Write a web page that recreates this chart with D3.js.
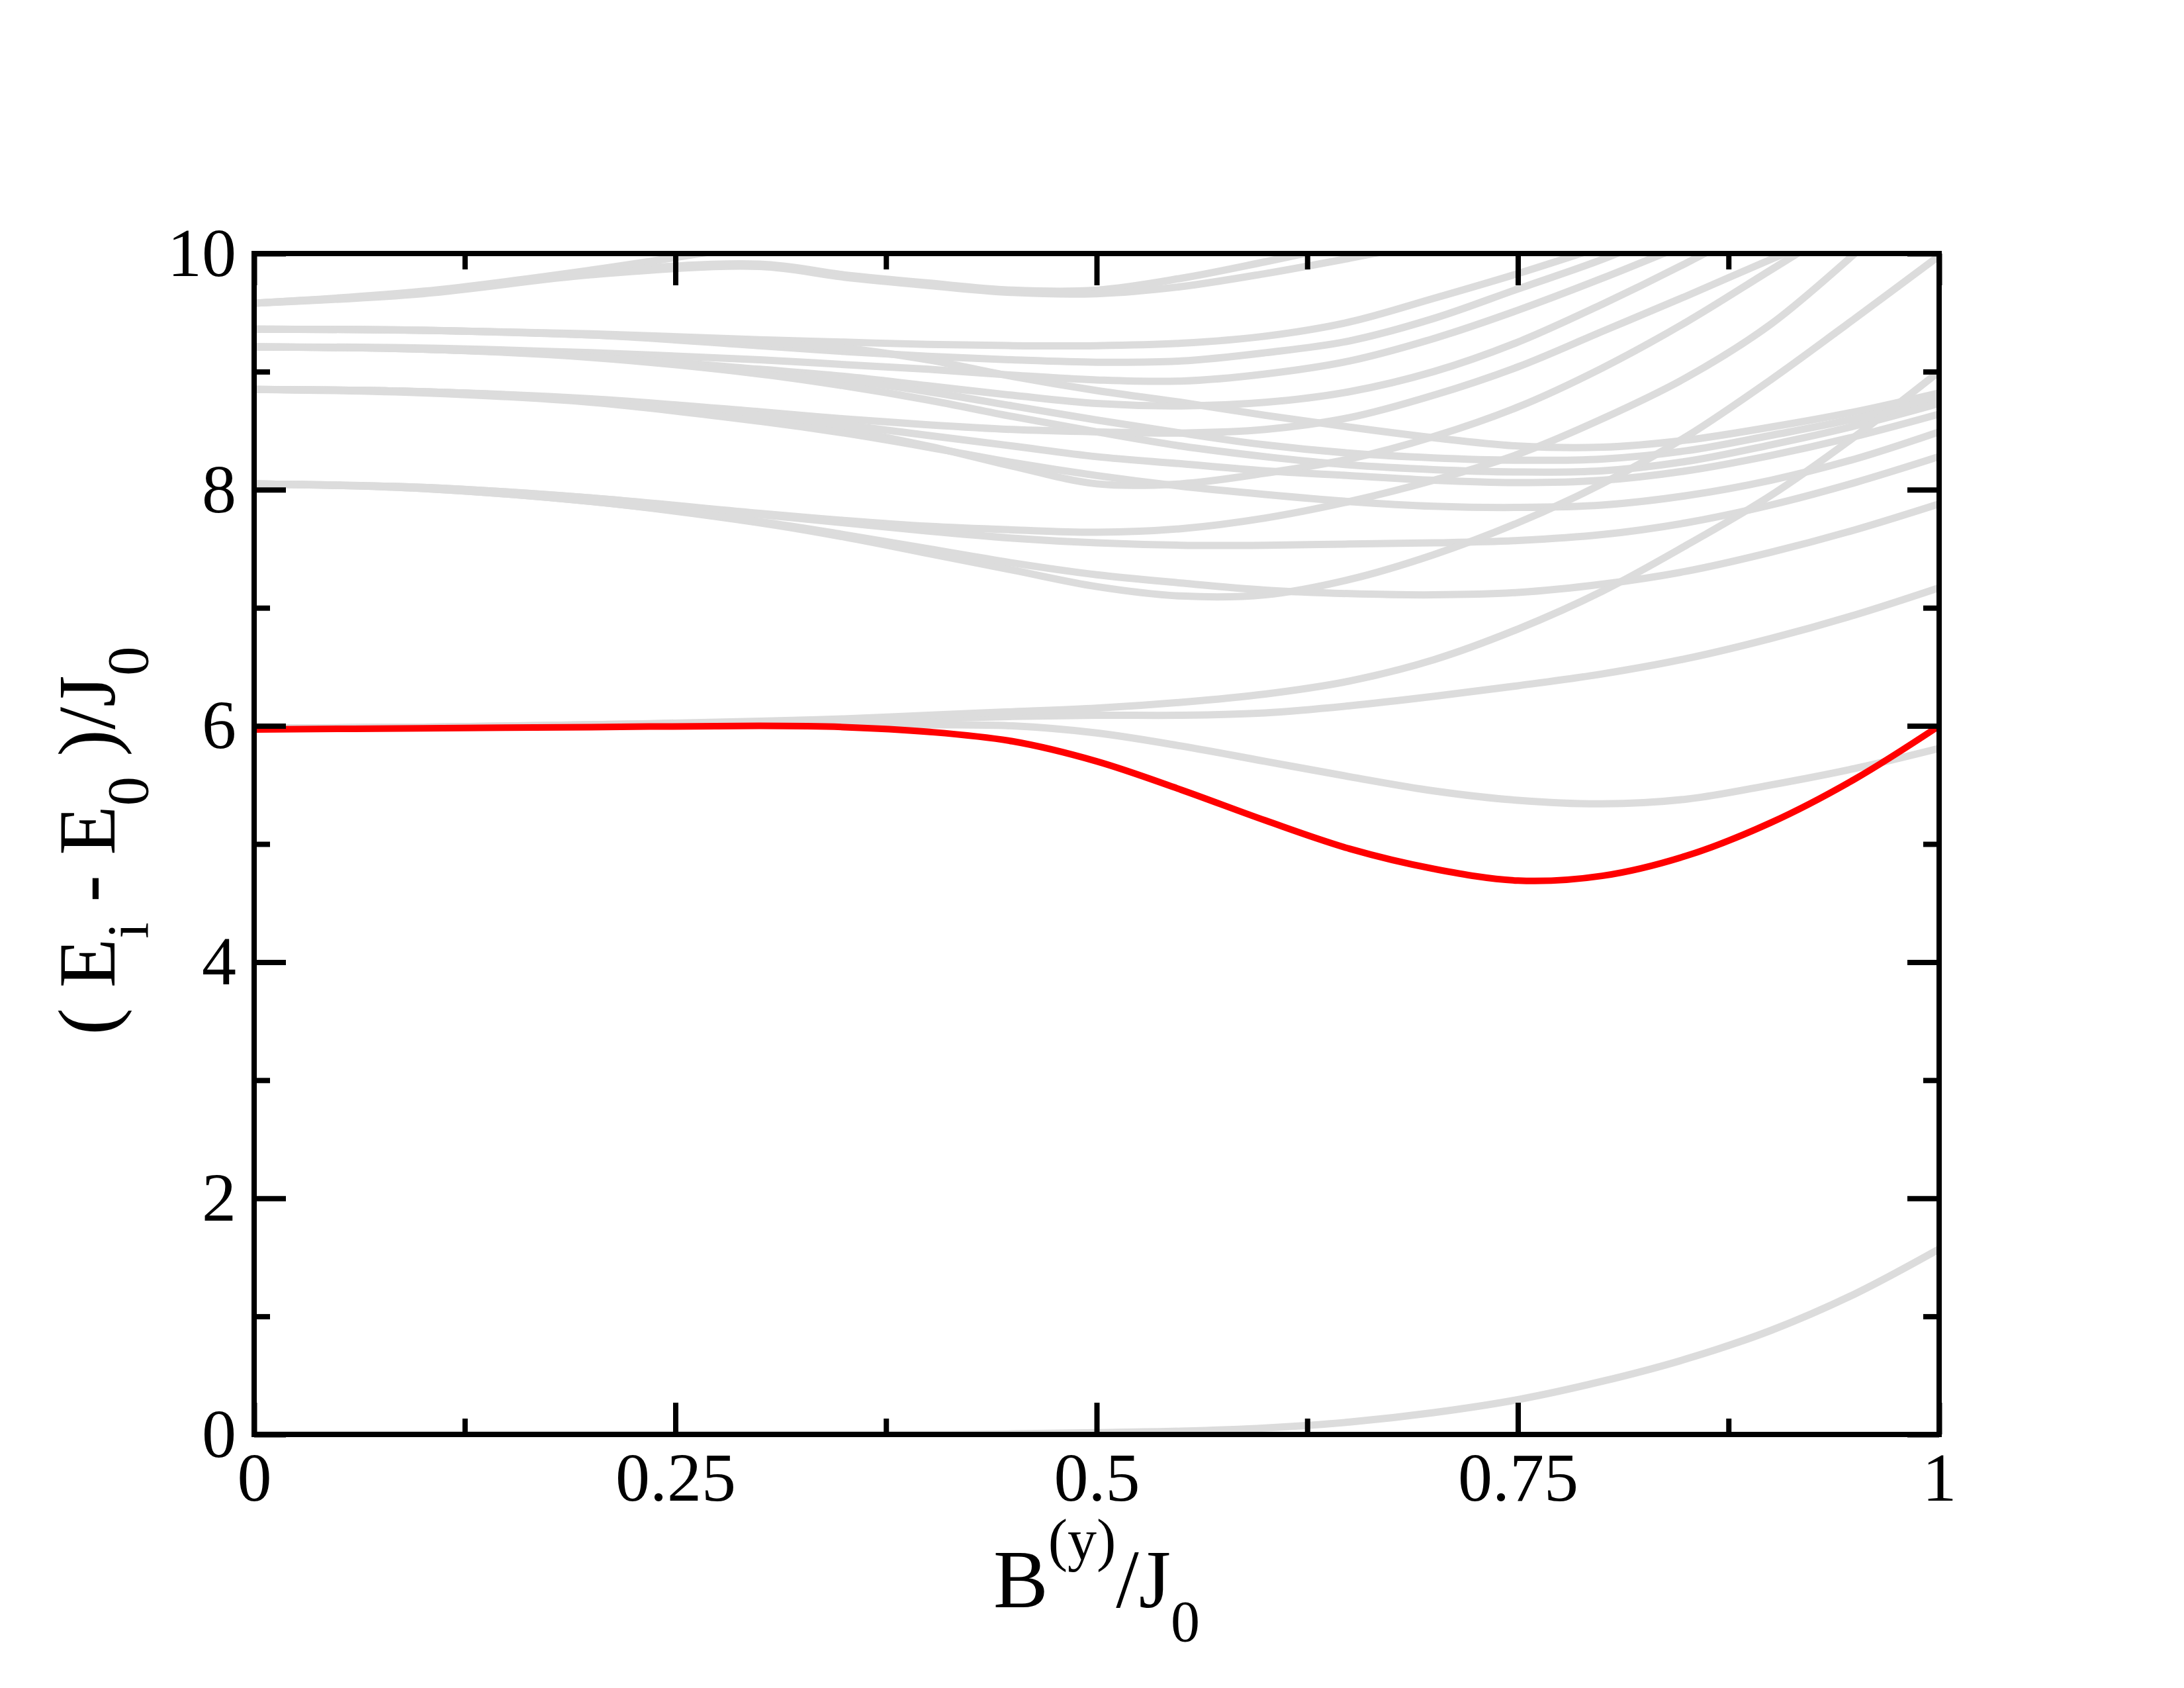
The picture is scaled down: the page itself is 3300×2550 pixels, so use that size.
<!DOCTYPE html>
<html>
<head>
<meta charset="utf-8">
<script src="https://cdn.jsdelivr.net/npm/d3@7"></script>
<style>
  html, body { margin: 0; padding: 0; background: #fff; }
  text { font-family: "Liberation Serif", "Times New Roman", serif; }
</style>
</head>
<body>
<script>
// field values along the x axis (B^(y)/J0)
var bField = [0, 0.1, 0.2, 0.3, 0.35, 0.4, 0.45, 0.5, 0.55, 0.6, 0.65, 0.7, 0.75, 0.8, 0.85, 0.9, 0.95, 1];

// excitation energies (Ei - E0)/J0; null = left the frame
var levelL1 = [9.58, 9.68, 9.86, 10.08, null, null, null, null, null, null, null, null, null, null, null, null, null, null];
var levelL2 = [9.58, 9.67, 9.84, 9.91, 9.82, 9.75, 9.69, 9.69, 9.79, 9.93, 10.08, null, null, null, null, null, null, null];
var levelL3 = [9.58, 9.66, 9.82, 9.89, 9.80, 9.73, 9.67, 9.66, 9.72, 9.83, 9.96, 10.1, null, null, null, null, null, null];
var levelA  = [9.36, 9.35, 9.32, 9.27, 9.25, 9.23, 9.22, 9.22, 9.24, 9.30, 9.42, 9.62, 9.83, 10.06, null, null, null, null];
var levelB  = [9.36, 9.35, 9.31, 9.22, 9.17, 9.13, 9.10, 9.08, 9.09, 9.16, 9.26, 9.45, 9.70, 9.95, 10.25, null, null, null];
var levelF1 = [9.36, 9.35, 9.31, 9.25, 9.20, 9.10, 8.96, 8.84, 8.74, 8.63, 8.53, 8.44, 8.37, 8.36, 8.42, 8.53, 8.66, 8.82];
var levelC  = [9.21, 9.20, 9.16, 9.10, 9.06, 9.02, 8.97, 8.93, 8.92, 8.98, 9.09, 9.28, 9.52, 9.79, 10.08, null, null, null];
var levelD  = [9.21, 9.19, 9.13, 9.02, 8.96, 8.88, 8.80, 8.73, 8.71, 8.74, 8.83, 9.00, 9.25, 9.57, 9.92, 10.3, null, null];
var levelF2 = [9.21, 9.19, 9.13, 9.00, 8.93, 8.83, 8.71, 8.59, 8.48, 8.38, 8.31, 8.27, 8.25, 8.26, 8.33, 8.46, 8.60, 8.78];
var levelF3 = [9.21, 9.19, 9.12, 8.98, 8.88, 8.76, 8.62, 8.49, 8.37, 8.28, 8.21, 8.17, 8.15, 8.16, 8.24, 8.38, 8.54, 8.73];
var levelE  = [8.85, 8.83, 8.77, 8.66, 8.60, 8.55, 8.51, 8.49, 8.48, 8.51, 8.61, 8.80, 9.04, 9.34, 9.64, 9.95, 10.25, null];
var levelF  = [8.85, 8.83, 8.76, 8.62, 8.51, 8.37, 8.20, 8.05, 8.05, 8.14, 8.26, 8.45, 8.70, 9.03, 9.42, 9.86, 10.3, null];
var levelF4 = [8.85, 8.83, 8.76, 8.63, 8.55, 8.46, 8.37, 8.28, 8.22, 8.16, 8.12, 8.08, 8.06, 8.08, 8.16, 8.29, 8.45, 8.64];
var levelF5 = [8.85, 8.82, 8.74, 8.58, 8.48, 8.36, 8.23, 8.12, 8.03, 7.96, 7.90, 7.86, 7.85, 7.87, 7.95, 8.08, 8.26, 8.49];
var levelG  = [8.05, 8.02, 7.93, 7.80, 7.74, 7.69, 7.66, 7.64, 7.67, 7.76, 7.90, 8.08, 8.30, 8.60, 8.95, 9.40, 10.0, null];
var levelF6 = [8.05, 8.02, 7.93, 7.79, 7.72, 7.65, 7.59, 7.55, 7.53, 7.53, 7.54, 7.55, 7.57, 7.62, 7.72, 7.87, 8.06, 8.28];
var levelH  = [8.05, 8.01, 7.90, 7.72, 7.60, 7.46, 7.32, 7.18, 7.10, 7.11, 7.24, 7.45, 7.72, 8.05, 8.45, 8.93, 9.45, 9.98];
var levelF7 = [8.05, 8.01, 7.90, 7.73, 7.62, 7.50, 7.38, 7.28, 7.21, 7.15, 7.12, 7.11, 7.13, 7.20, 7.31, 7.47, 7.66, 7.88];
var level6a = [5.98, 5.99, 6.00, 6.02, 6.02, 6.01, 6.00, 5.94, 5.83, 5.70, 5.57, 5.45, 5.37, 5.34, 5.38, 5.50, 5.64, 5.81];
var level6b = [5.98, 5.99, 6.01, 6.03, 6.04, 6.06, 6.08, 6.09, 6.09, 6.11, 6.17, 6.25, 6.34, 6.44, 6.57, 6.74, 6.94, 7.17];
var level6c = [5.98, 5.99, 6.01, 6.04, 6.06, 6.09, 6.12, 6.15, 6.20, 6.27, 6.38, 6.56, 6.82, 7.14, 7.53, 7.95, 8.45, 9.00];
var levelGround = [0, 0, 0, 0, 0, 0, 0.005, 0.015, 0.028, 0.055, 0.105, 0.185, 0.295, 0.45, 0.64, 0.88, 1.19, 1.57];

// highlighted level (red)
var levelRed = [5.97, 5.98, 5.99, 6.00, 5.99, 5.95, 5.87, 5.70, 5.46, 5.20, 4.96, 4.79, 4.69, 4.73, 4.90, 5.18, 5.55, 6.00];

var greyLevels = [levelL1, levelL2, levelL3, levelA, levelB, levelF1, levelC, levelD, levelF2, levelF3,
                  levelE, levelF, levelF4, levelF5, levelG, levelF6, levelH, levelF7,
                  level6a, level6b, level6c, levelGround];

var xMajor = [0, 0.25, 0.5, 0.75, 1];
var xMinor = [0.125, 0.375, 0.625, 0.875];
var xTickLabels = ["0", "0.25", "0.5", "0.75", "1"];
var yMajor = [0, 2, 4, 6, 8, 10];
var yMinor = [1, 3, 5, 7, 9];

var W = 3300, H = 2550;
var plotL = 384, plotR = 2930, plotT = 383, plotB = 2167;

var svg = d3.select("body").append("svg")
    .attr("width", W)
    .attr("height", H)
    .style("display", "block");

svg.append("rect").attr("width", W).attr("height", H).attr("fill", "#fff");

var x = d3.scaleLinear().domain([0, 1]).range([plotL, plotR]);
var y = d3.scaleLinear().domain([0, 10]).range([plotB, plotT]);

svg.append("defs").append("clipPath").attr("id", "plotclip")
  .append("rect")
    .attr("x", plotL).attr("y", plotT)
    .attr("width", plotR - plotL).attr("height", plotB - plotT);

var line = d3.line()
    .defined(function(d) { return d[1] != null; })
    .x(function(d) { return x(d[0]); })
    .y(function(d) { return y(d[1]); })
    .curve(d3.curveCatmullRom.alpha(0.5));

function pairs(vals) {
    return bField.map(function(b, i) { return [b, vals[i]]; });
}

var plot = svg.append("g").attr("clip-path", "url(#plotclip)");

plot.selectAll("path.grey")
    .data(greyLevels)
    .enter().append("path")
    .attr("class", "grey")
    .attr("d", function(d) { return line(pairs(d)); })
    .attr("fill", "none")
    .attr("stroke", "#dcdcdc")
    .attr("stroke-width", 11);

plot.append("path")
    .attr("d", line(pairs(levelRed)))
    .attr("fill", "none")
    .attr("stroke", "#ff0000")
    .attr("stroke-width", 10);

// axes: ticks point inward on all four sides
var tickW = 8, majorLen = 48, minorLen = 24, fontSize = 104;

function styleAxis(g) {
    g.select(".domain").remove();
    g.selectAll(".tick line").attr("stroke", "#000").attr("stroke-width", tickW);
    g.selectAll("text")
        .attr("font-family", "'Liberation Serif', 'Times New Roman', serif")
        .attr("font-size", fontSize)
        .attr("fill", "#000");
}

svg.append("g")
    .attr("transform", "translate(0," + plotB + ")")
    .call(d3.axisBottom(x).tickValues(xMajor).tickSize(-majorLen).tickSizeOuter(0).tickPadding(26)
        .tickFormat(function(d, i) { return xTickLabels[i]; }))
    .call(styleAxis);
svg.append("g")
    .attr("transform", "translate(0," + plotB + ")")
    .call(d3.axisBottom(x).tickValues(xMinor).tickSize(-minorLen).tickSizeOuter(0).tickFormat(""))
    .call(styleAxis);
svg.append("g")
    .attr("transform", "translate(0," + plotT + ")")
    .call(d3.axisTop(x).tickValues(xMajor).tickSize(-majorLen).tickSizeOuter(0).tickFormat(""))
    .call(styleAxis);
svg.append("g")
    .attr("transform", "translate(0," + plotT + ")")
    .call(d3.axisTop(x).tickValues(xMinor).tickSize(-minorLen).tickSizeOuter(0).tickFormat(""))
    .call(styleAxis);

svg.append("g")
    .attr("transform", "translate(" + plotL + ",0)")
    .call(d3.axisLeft(y).tickValues(yMajor).tickSize(-majorLen).tickSizeOuter(0).tickPadding(27)
        .tickFormat(d3.format("d")))
    .call(styleAxis);
svg.append("g")
    .attr("transform", "translate(" + plotL + ",0)")
    .call(d3.axisLeft(y).tickValues(yMinor).tickSize(-minorLen).tickSizeOuter(0).tickFormat(""))
    .call(styleAxis);
svg.append("g")
    .attr("transform", "translate(" + plotR + ",0)")
    .call(d3.axisRight(y).tickValues(yMajor).tickSize(-majorLen).tickSizeOuter(0).tickFormat(""))
    .call(styleAxis);
svg.append("g")
    .attr("transform", "translate(" + plotR + ",0)")
    .call(d3.axisRight(y).tickValues(yMinor).tickSize(-minorLen).tickSizeOuter(0).tickFormat(""))
    .call(styleAxis);

// frame
svg.append("rect")
    .attr("x", plotL).attr("y", plotT)
    .attr("width", plotR - plotL).attr("height", plotB - plotT)
    .attr("fill", "none")
    .attr("stroke", "#000")
    .attr("stroke-width", tickW);

// x axis title: B^(y)/J_0
var xt = svg.append("text")
    .attr("x", (plotL + plotR) / 2)
    .attr("y", 2428)
    .attr("text-anchor", "middle")
    .attr("font-size", 124)
    .attr("fill", "#000");
xt.append("tspan").text("B");
xt.append("tspan").attr("font-size", 88).attr("dy", -72).text("(y)");
xt.append("tspan").attr("dy", 72).text("/J");
xt.append("tspan").attr("font-size", 88).attr("dy", 51).text("0");

// y axis title: ( E_i - E_0 )/J_0
var yt = svg.append("text")
    .attr("transform", "translate(173," + ((plotT + plotB) / 2 - 5) + ") rotate(-90)")
    .attr("text-anchor", "middle")
    .attr("font-size", 122)
    .attr("fill", "#000");
yt.append("tspan").text("( E");
yt.append("tspan").attr("font-size", 88).attr("dy", 50).text("i");
yt.append("tspan").attr("dy", -50).text(" - E");
yt.append("tspan").attr("font-size", 88).attr("dy", 50).text("0");
yt.append("tspan").attr("dy", -50).text(" )/J");
yt.append("tspan").attr("font-size", 88).attr("dy", 50).text("0");
</script>
</body>
</html>
